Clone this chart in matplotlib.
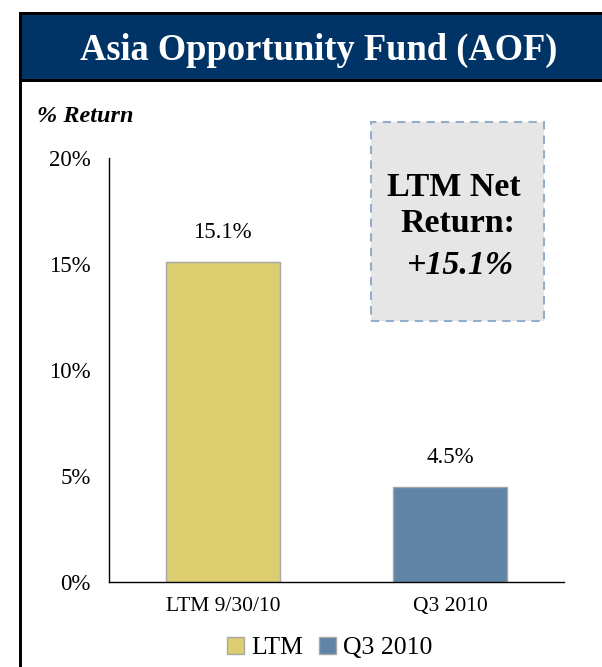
import matplotlib
matplotlib.use("Agg")
import matplotlib.pyplot as plt
from matplotlib.patches import Rectangle

# ----------------------------------------------------
# DATA
# ----------------------------------------------------
categories = ["LTM 9/30/10", "Q3 2010"]
returns = [15.1, 4.5]
value_labels = ["15.1%", "4.5%"]
legend_names = ["LTM", "Q3 2010"]
yticks = [0, 5, 10, 15, 20]
ytick_labels = ["0%", "5%", "10%", "15%", "20%"]

title = "Asia Opportunity Fund (AOF)"
callout_lines = ["LTM Net", "Return:", "+15.1%"]

bar_colors = ["#DCCD6E", "#5F84A5"]
navy = "#003366"
serif = ["Liberation Serif", "DejaVu Serif"]

plt.rcParams["font.family"] = serif

W, H = 602, 667
fig = plt.figure(figsize=(W / 100, H / 100), dpi=100)


def fx(x):
    return x / W


def fy(y):
    return 1 - y / H


# ----------------------------------------------------
# FRAME + TITLE BAR
# ----------------------------------------------------
fig.patches.append(Rectangle((fx(19), fy(82)), fx(W + 5) - fx(19), fy(12) - fy(82),
                             transform=fig.transFigure, facecolor="black", edgecolor="none"))
fig.patches.append(Rectangle((fx(22), fy(79)), fx(W + 5) - fx(22), fy(15) - fy(79),
                             transform=fig.transFigure, facecolor=navy, edgecolor="none"))
fig.patches.append(Rectangle((fx(19), 0), fx(3), fy(82),
                             transform=fig.transFigure, facecolor="black", edgecolor="none"))
fig.text(fx(319), fy(50), title, color="white", fontsize=26.3, fontweight="bold",
         ha="center", va="center")

fig.text(fx(37), fy(117), "% Return", fontsize=17.5, fontweight="bold", style="italic",
         ha="left", va="center")

# ----------------------------------------------------
# BAR CHART
# ----------------------------------------------------
ax = fig.add_axes([fx(109), fy(582), fx(564) - fx(109), fy(158) - fy(582)])
x = range(len(categories))
bars = ax.bar(x, returns, width=0.5, color=bar_colors, edgecolor="#A6A6A6", linewidth=1)
for b, lab in zip(bars, value_labels):
    ax.annotate(lab, (b.get_x() + b.get_width() / 2, b.get_height()),
                xytext=(0, 21), textcoords="offset points",
                ha="center", va="center", fontsize=16.5)

ax.set_xlim(-0.5, 1.5)
ax.set_ylim(0, 20)
ax.set_yticks(yticks)
ax.set_yticklabels(ytick_labels, fontsize=16.5)
ax.set_xticks(list(x))
ax.set_xticklabels(categories, fontsize=15.5)
ax.tick_params(axis="both", length=0)
ax.tick_params(axis="y", pad=13)
ax.tick_params(axis="x", pad=11)
for s in ["top", "right"]:
    ax.spines[s].set_visible(False)
ax.spines["left"].set_linewidth(1)
ax.spines["bottom"].set_linewidth(1)

# legend
handles = [Rectangle((0, 0), 1, 1, facecolor=c, edgecolor="#A6A6A6") for c in bar_colors]
fig.legend(handles, legend_names, loc="center", bbox_to_anchor=(fx(330), fy(648)),
           ncol=2, frameon=False, fontsize=18.5, handlelength=0.65, handleheight=0.65,
           handletextpad=0.3, columnspacing=0.6)

# ----------------------------------------------------
# CALLOUT BOX
# ----------------------------------------------------
fig.patches.append(Rectangle((fx(371), fy(321)), fx(544) - fx(371), fy(122) - fy(321),
                             transform=fig.transFigure, facecolor="#E6E6E6",
                             edgecolor="#93AECB", linewidth=1.5, linestyle=(0, (4, 3))))
fig.text(fx(454), fy(187), callout_lines[0], fontsize=24.5, fontweight="bold",
         ha="center", va="center")
fig.text(fx(458), fy(224), callout_lines[1], fontsize=24.5, fontweight="bold",
         ha="center", va="center")
fig.text(fx(461), fy(265), callout_lines[2], fontsize=24.5, fontweight="bold",
         style="italic", ha="center", va="center")

fig.savefig("out.png", dpi=100)
